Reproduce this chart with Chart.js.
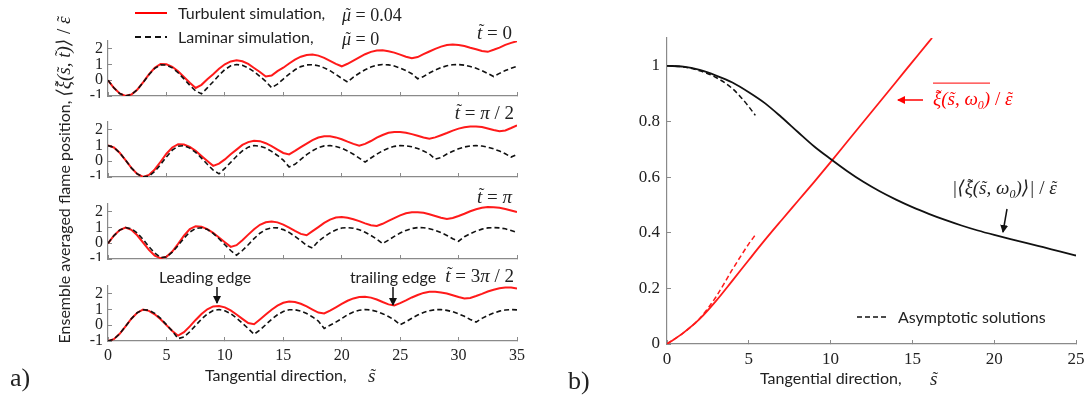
<!DOCTYPE html>
<html>
<head>
<meta charset="utf-8">
<script src="https://cdn.jsdelivr.net/npm/chart.js@4.4.0/dist/chart.umd.min.js"></script>
<style>
  body { margin: 0; background: #fff; }
  #fig { position: relative; width: 1089px; height: 402px; overflow: hidden; background: #fff;
         font-family: Lato, "Open Sans", sans-serif; color: #222; }
  canvas { position: absolute; }
  .t { position: absolute; white-space: nowrap; line-height: 1; }
  .lc { transform: translateY(-50%); }
  .cc { transform: translate(-50%, -50%); }
  .rc { transform: translate(-100%, -50%); }
  .m { font-family: "Liberation Serif", "DejaVu Serif", serif; font-style: italic; }
  .r { font-family: "Liberation Serif", "DejaVu Serif", serif; font-style: normal; }
  .acc { position: relative; display: inline-block; }
  .tld { position: absolute; left: 0; right: 0; top: -0.02em; text-align: center;
         font-style: normal; font-size: 0.9em; transform: translateX(0.1em); }
  .tld.hi { top: -0.14em; }
</style>
</head>
<body>
<div id="fig">
  <canvas id="sub0" width="470" height="63" style="left:60px;top:35px"></canvas>
  <canvas id="sub1" width="470" height="63" style="left:60px;top:116px"></canvas>
  <canvas id="sub2" width="470" height="63" style="left:60px;top:198px"></canvas>
  <canvas id="sub3" width="470" height="87" style="left:60px;top:280px"></canvas>
  <canvas id="right" width="469" height="338" style="left:620px;top:30px"></canvas>

  <svg width="1089" height="402" style="position:absolute;left:0;top:0;pointer-events:none">
    <defs>
      <marker id="ah" markerWidth="8" markerHeight="8" refX="7" refY="4" orient="auto" markerUnits="userSpaceOnUse">
        <path d="M0,0 L8,4 L0,8 z" fill="#111"/>
      </marker>
      <marker id="ahr" markerWidth="8" markerHeight="8" refX="7" refY="4" orient="auto" markerUnits="userSpaceOnUse">
        <path d="M0,0 L8,4 L0,8 z" fill="#f00"/>
      </marker>
    </defs>
    <line x1="135" y1="13" x2="167" y2="13" stroke="#f00" stroke-width="2"/>
    <line x1="135" y1="37" x2="167" y2="37" stroke="#111" stroke-width="2" stroke-dasharray="6,4"/>
    <line x1="217" y1="287" x2="217" y2="303" stroke="#111" stroke-width="1.5" marker-end="url(#ah)"/>
    <line x1="393" y1="287" x2="393" y2="305" stroke="#111" stroke-width="1.5" marker-end="url(#ah)"/>
    <line x1="923" y1="100" x2="898" y2="100" stroke="#f00" stroke-width="1.5" marker-end="url(#ahr)"/>
    <line x1="1007" y1="209" x2="1003" y2="232" stroke="#111" stroke-width="1.5" marker-end="url(#ah)"/>
    <line x1="857" y1="317" x2="889" y2="317" stroke="#111" stroke-width="1.6" stroke-dasharray="5,3"/>
  </svg>

  <!-- panel a texts -->
  <div class="t lc" style="left:178px;top:13px;font-size:16px">Turbulent simulation,</div>
  <div class="t lc" style="left:342px;top:14px;font-size:18px"><span class="m acc">μ<span class="tld">˜</span></span><span class="r"> = 0.04</span></div>
  <div class="t lc" style="left:178px;top:37px;font-size:16px">Laminar simulation,</div>
  <div class="t lc" style="left:342px;top:38px;font-size:18px"><span class="m acc">μ<span class="tld">˜</span></span><span class="r"> = 0</span></div>

  <div class="t rc r" style="left:512px;top:32px;font-size:19px"><span class="m acc">t<span class="tld hi">˜</span></span> = 0</div>
  <div class="t rc r" style="left:514px;top:112px;font-size:19px"><span class="m acc">t<span class="tld hi">˜</span></span> = <span class="m">π</span> / 2</div>
  <div class="t rc r" style="left:512px;top:196px;font-size:19px"><span class="m acc">t<span class="tld hi">˜</span></span> = <span class="m">π</span></div>
  <div class="t rc r" style="left:514px;top:275px;font-size:19px"><span class="m acc">t<span class="tld hi">˜</span></span> = 3<span class="m">π</span> / 2</div>

  <div class="t cc" style="left:205px;top:277px;font-size:16px">Leading edge</div>
  <div class="t cc" style="left:393px;top:277px;font-size:16px">trailing edge</div>

  <div class="t" style="left:63px;top:180px;font-size:16px;transform:translate(-50%,-50%) rotate(-90deg)">Ensemble averaged flame position, <span class="m" style="font-size:19px">⟨<span class="acc">ξ<span class="tld hi">˜</span></span>(<span class="acc">s<span class="tld">˜</span></span>, <span class="acc">t<span class="tld hi">˜</span></span>)⟩<span class="r"> / </span><span class="acc">ε<span class="tld">˜</span></span></span></div>

  <div class="t lc" style="left:205px;top:375px;font-size:16px">Tangential direction,</div>
  <div class="t lc m" style="left:368px;top:375px;font-size:19px"><span class="acc">s<span class="tld">˜</span></span></div>
  <div class="t lc r" style="left:10px;top:378px;font-size:26px">a)</div>

  <!-- panel b texts -->
  <div class="t lc m" style="left:933px;top:100px;font-size:19px;color:#f00"><span style="border-top:1.3px solid #f00;padding-top:4px"><span class="acc">ξ<span class="tld hi">˜</span></span>(<span class="acc">s<span class="tld">˜</span></span>, ω<sub style="font-size:12px">0</sub>)</span><span class="r"> / </span><span class="acc">ε<span class="tld">˜</span></span></div>
  <div class="t lc m" style="left:952px;top:189px;font-size:19px">|⟨<span class="acc">ξ<span class="tld hi">˜</span></span>(<span class="acc">s<span class="tld">˜</span></span>, ω<sub style="font-size:12px">0</sub>)⟩|<span class="r"> / </span><span class="acc">ε<span class="tld">˜</span></span></div>
  <div class="t lc" style="left:898px;top:317px;font-size:16px">Asymptotic solutions</div>
  <div class="t lc" style="left:760px;top:378px;font-size:16px">Tangential direction,</div>
  <div class="t lc m" style="left:930px;top:378px;font-size:19px"><span class="acc">s<span class="tld">˜</span></span></div>
  <div class="t lc r" style="left:568px;top:381px;font-size:26px">b)</div>
</div>

<script>
// panel a: tangential coordinate grid shared by all four instants
const sGrid = [0, 0.5, 1, 1.5, 2, 2.5, 3, 3.5, 4, 4.5, 5, 5.5, 6, 6.5, 7, 7.5, 8, 8.5, 9, 9.5,
  10, 10.5, 11, 11.5, 12, 12.5, 13, 13.5, 14, 14.5, 15, 15.5, 16, 16.5, 17, 17.5, 18, 18.5, 19, 19.5,
  20, 20.5, 21, 21.5, 22, 22.5, 23, 23.5, 24, 24.5, 25, 25.5, 26, 26.5, 27, 27.5, 28, 28.5, 29, 29.5,
  30, 30.5, 31, 31.5, 32, 32.5, 33, 33.5, 34, 34.5, 35];

// t = 0
const lam0 = [0, -0.48, -0.84, -1.00, -0.91, -0.60, -0.14, 0.35, 0.76, 0.98,
  0.97, 0.79, 0.48, 0.09, -0.32, -0.68, -0.86, -0.48, -0.09, 0.32,
  0.68, 0.92, 1.00, 0.95, 0.79, 0.55, 0.25, -0.07, -0.47, -0.25,
  0.08, 0.39, 0.67, 0.87, 0.98, 0.99, 0.93, 0.79, 0.61, 0.37,
  0.12, -0.11, 0.20, 0.45, 0.67, 0.84, 0.96, 1.00, 0.98, 0.91,
  0.78, 0.62, 0.42, 0.10, 0.24, 0.46, 0.65, 0.81, 0.92, 0.99,
  1.00, 0.96, 0.88, 0.77, 0.61, 0.43, 0.24, 0.44, 0.62, 0.77, 0.89];
const tur0 = [0, -0.48, -0.84, -0.99, -0.91, -0.60, -0.13, 0.38, 0.80, 1.03,
  1.02, 0.86, 0.57, 0.21, -0.16, -0.49, -0.29, 0.07, 0.39, 0.73,
  1.02, 1.20, 1.27, 1.21, 1.04, 0.78, 0.53, 0.24, 0.30, 0.58,
  0.80, 1.07, 1.31, 1.50, 1.61, 1.64, 1.57, 1.43, 1.24, 1.04,
  0.89, 1.05, 1.25, 1.46, 1.66, 1.81, 1.90, 1.91, 1.85, 1.76,
  1.63, 1.50, 1.40, 1.48, 1.66, 1.83, 2.00, 2.14, 2.24, 2.27,
  2.25, 2.18, 2.07, 1.97, 1.87, 1.81, 1.94, 2.08, 2.25, 2.38, 2.49];

// t = pi/2
const lam1 = [1.00, 0.88, 0.54, 0.07, -0.42, -0.80, -0.99, -0.94, -0.65, -0.21,
  0.28, 0.71, 0.96, 0.99, 0.84, 0.57, 0.20, -0.19, -0.56, -0.80,
  -0.45, -0.07, 0.32, 0.66, 0.90, 1.00, 0.96, 0.84, 0.63, 0.37,
  0.07, -0.36, -0.19, 0.12, 0.42, 0.67, 0.87, 0.98, 1.00, 0.94,
  0.83, 0.66, 0.45, 0.20, -0.05, 0.21, 0.45, 0.67, 0.83, 0.95,
  1.00, 0.99, 0.92, 0.81, 0.66, 0.47, 0.14, 0.24, 0.46, 0.64,
  0.80, 0.91, 0.98, 1.00, 0.97, 0.90, 0.79, 0.65, 0.48, 0.27, 0.44];
const tur1 = [1.00, 0.88, 0.54, 0.07, -0.42, -0.80, -0.99, -0.87, -0.52, -0.03,
  0.48, 0.88, 1.09, 1.07, 0.92, 0.66, 0.34, 0.02, -0.29, -0.15,
  0.12, 0.45, 0.74, 1.04, 1.22, 1.31, 1.28, 1.15, 0.96, 0.74,
  0.53, 0.44, 0.66, 0.90, 1.13, 1.35, 1.51, 1.59, 1.59, 1.52,
  1.40, 1.25, 1.11, 0.99, 1.11, 1.29, 1.50, 1.67, 1.81, 1.87,
  1.87, 1.82, 1.73, 1.62, 1.51, 1.43, 1.52, 1.66, 1.80, 1.95,
  2.08, 2.17, 2.22, 2.22, 2.18, 2.09, 1.99, 1.91, 1.96, 2.12, 2.29];

// t = pi
const lam2 = [0, 0.48, 0.84, 1.00, 0.92, 0.66, 0.25, -0.21, -0.62, -0.91,
  -0.87, -0.57, -0.14, 0.32, 0.71, 0.95, 0.99, 0.88, 0.63, 0.29,
  -0.09, -0.46, -0.76, -0.46, -0.09, 0.30, 0.64, 0.88, 0.99, 0.98,
  0.87, 0.69, 0.44, 0.16, -0.14, -0.30, 0.13, 0.41, 0.66, 0.85,
  0.97, 1.00, 0.96, 0.86, 0.70, 0.50, 0.26, -0.02, 0.20, 0.44,
  0.65, 0.82, 0.94, 1.00, 0.99, 0.93, 0.83, 0.68, 0.50, 0.29,
  0.13, 0.42, 0.61, 0.78, 0.90, 0.98, 1.00, 0.98, 0.92, 0.81, 0.68];
const tur2 = [0, 0.48, 0.84, 1.00, 0.86, 0.51, 0.05, -0.42, -0.78, -0.95,
  -0.86, -0.53, -0.04, 0.48, 0.90, 1.09, 1.05, 0.90, 0.66, 0.37,
  0.07, -0.23, -0.12, 0.20, 0.55, 0.89, 1.18, 1.34, 1.39, 1.33,
  1.19, 1.00, 0.79, 0.60, 0.51, 0.77, 1.03, 1.30, 1.51, 1.64,
  1.67, 1.62, 1.53, 1.41, 1.27, 1.15, 1.10, 1.24, 1.42, 1.60,
  1.78, 1.91, 1.98, 1.98, 1.94, 1.85, 1.74, 1.63, 1.54, 1.61,
  1.74, 1.88, 2.04, 2.17, 2.26, 2.31, 2.30, 2.26, 2.18, 2.09, 1.99];

// t = 3pi/2
const lam3 = [-1.00, -0.88, -0.54, -0.07, 0.42, 0.80, 0.99, 0.96, 0.76, 0.44,
  0.04, -0.36, -0.85, -0.74, -0.41, -0.01, 0.39, 0.72, 0.94, 1.00,
  0.92, 0.74, 0.46, 0.13, -0.21, -0.57, -0.30, 0.04, 0.38, 0.67,
  0.88, 0.99, 0.99, 0.90, 0.75, 0.53, 0.27, -0.20, 0.00, 0.20,
  0.43, 0.67, 0.85, 0.96, 1.00, 0.97, 0.88, 0.74, 0.56, 0.34,
  0.04, 0.22, 0.45, 0.65, 0.81, 0.93, 0.99, 1.00, 0.95, 0.86,
  0.73, 0.57, 0.37, 0.20, 0.44, 0.62, 0.78, 0.90, 0.97, 1.00, 0.98];
const tur3 = [-1.00, -0.88, -0.54, -0.07, 0.42, 0.80, 1.00, 0.92, 0.70, 0.38,
  0.01, -0.36, -0.66, -0.44, -0.07, 0.34, 0.72, 1.02, 1.20, 1.23,
  1.14, 0.95, 0.69, 0.41, 0.14, 0.07, 0.37, 0.68, 0.99, 1.25,
  1.43, 1.51, 1.48, 1.37, 1.20, 1.00, 0.81, 0.75, 0.93, 1.14,
  1.36, 1.56, 1.71, 1.80, 1.82, 1.76, 1.64, 1.48, 1.33, 1.26,
  1.41, 1.58, 1.77, 1.93, 2.06, 2.13, 2.14, 2.09, 2.02, 1.91,
  1.80, 1.71, 1.74, 1.86, 2.00, 2.15, 2.26, 2.36, 2.40, 2.40, 2.34];

const xTicksA = [0, 5, 10, 15, 20, 25, 30, 35];
const yTicksA = [-1, 0, 1, 2];

// panel b
const sAmp = [0, 1, 2, 3, 4, 5, 6, 7, 8, 9, 10, 11, 12, 13, 14, 15, 16, 17, 18, 19, 20, 21, 22, 23, 24, 25];
const ampVals = [1.0, 0.997, 0.985, 0.965, 0.94, 0.905, 0.865, 0.815, 0.762, 0.71, 0.665, 0.622, 0.583,
  0.549, 0.519, 0.492, 0.468, 0.446, 0.426, 0.408, 0.392, 0.377, 0.363, 0.348, 0.333, 0.318];
const sMean = [0, 1, 2, 3, 4, 5, 6, 7, 8, 9, 10, 11, 12, 13, 14, 15, 16, 16.2];
const meanVals = [0, 0.04, 0.09, 0.155, 0.228, 0.302, 0.375, 0.445, 0.514, 0.583, 0.654, 0.726, 0.798,
  0.870, 0.942, 1.014, 1.086, 1.10];
const sAsymAmp = [0, 1, 2, 3, 4, 4.5, 5, 5.4];
const asymAmpVals = [1.0, 0.996, 0.982, 0.958, 0.918, 0.888, 0.853, 0.822];
const sAsymMean = [0, 1, 2, 3, 4, 5, 5.4];
const asymMeanVals = [0, 0.04, 0.092, 0.17, 0.268, 0.36, 0.392];

const xTicksB = [0, 5, 10, 15, 20, 25];
const yTicksB = [0, 0.2, 0.4, 0.6, 0.8, 1];

const RED = "#ff1a1a";
const INK = "#111";
const AXIS = "#8a8a8a";
const tickFont = { family: "Liberation Serif", size: 16 };

const pts = (xs, ys) => xs.map((x, i) => ({ x: x, y: ys[i] }));

// fixed axis sizes, and no extra label padding so the plot areas land where we want
function fixW(w) {
  return s => { s.width = w; s.paddingTop = 0; s.paddingBottom = 0; };
}
function fixH(h) {
  return s => { s.height = h; s.paddingLeft = 0; s.paddingRight = 0; };
}

function axis(min, max, tickList, fitFn, showLabels, pad, font) {
  return {
    type: "linear", min: min, max: max,
    afterBuildTicks: s => { s.ticks = tickList.map(v => ({ value: v })); },
    afterFit: fitFn,
    grid: { drawOnChartArea: false, tickLength: -4, color: AXIS, lineWidth: 1 },
    border: { color: AXIS, width: 1.2 },
    ticks: { display: showLabels, padding: pad, color: "#222", font: font,
             maxRotation: 0, autoSkip: false, callback: v => String(v) }
  };
}

function makeSub(id, lam, tur, showX) {
  return new Chart(document.getElementById(id), {
    type: "line",
    data: {
      datasets: [
        { data: pts(sGrid, lam), borderColor: INK, borderWidth: 1.6, borderDash: [5, 3] },
        { data: pts(sGrid, tur), borderColor: RED, borderWidth: 2 }
      ]
    },
    options: {
      responsive: false, animation: false, devicePixelRatio: 1,
      layout: { padding: { top: 6, right: 13, left: 0, bottom: 0 } },
      plugins: { legend: { display: false }, tooltip: { enabled: false } },
      elements: { point: { radius: 0 }, line: { tension: 0 } },
      scales: {
        x: axis(0, 35, xTicksA, fixH(showX ? 26 : 2), showX, 9, tickFont),
        y: axis(-1, 2.5, yTicksA, fixW(48), true, 9, tickFont)
      }
    }
  });
}

makeSub("sub0", lam0, tur0, false);
makeSub("sub1", lam1, tur1, false);
makeSub("sub2", lam2, tur2, false);
makeSub("sub3", lam3, tur3, true);

new Chart(document.getElementById("right"), {
  type: "line",
  data: {
    datasets: [
      { data: pts(sAmp, ampVals), borderColor: INK, borderWidth: 1.8 },
      { data: pts(sAsymAmp, asymAmpVals), borderColor: INK, borderWidth: 1.5, borderDash: [5, 3] },
      { data: pts(sMean, meanVals), borderColor: RED, borderWidth: 1.8 },
      { data: pts(sAsymMean, asymMeanVals), borderColor: RED, borderWidth: 1.5, borderDash: [5, 3] }
    ]
  },
  options: {
    responsive: false, animation: false, devicePixelRatio: 1,
    layout: { padding: { top: 8, right: 13, left: 0, bottom: 0 } },
    plugins: { legend: { display: false }, tooltip: { enabled: false } },
    elements: { point: { radius: 0 }, line: { cubicInterpolationMode: "monotone" } },
    scales: {
      x: axis(0, 25, xTicksB, fixH(24), true, 9, { family: "Liberation Serif", size: 17 }),
      y: axis(0, 1.1, yTicksB, fixW(47), true, 11, { family: "Liberation Serif", size: 17 })
    }
  }
});
</script>
</body>
</html>
